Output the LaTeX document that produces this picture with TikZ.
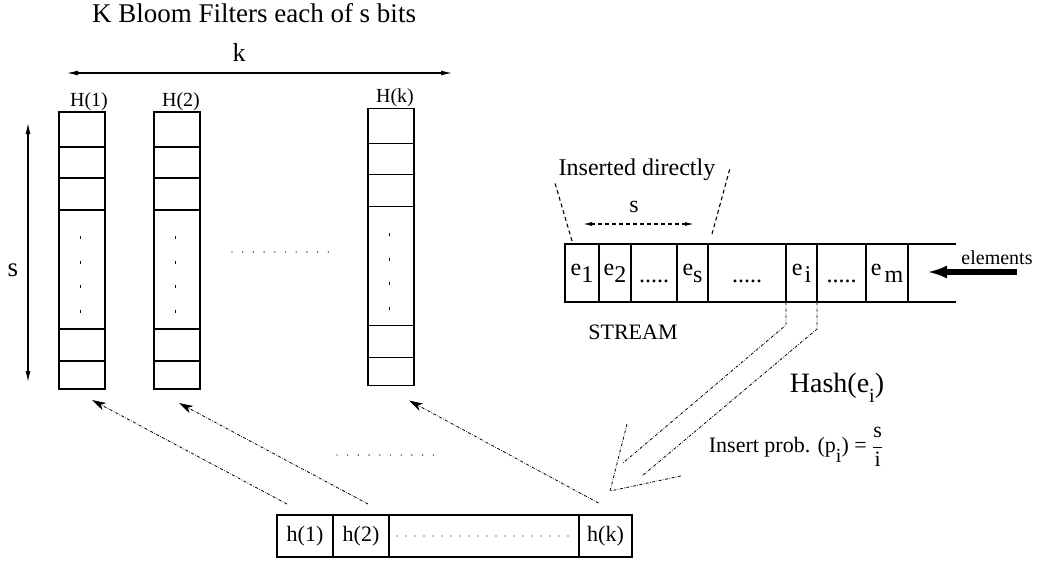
\documentclass[tikz,border=0pt]{standalone}
\usepackage{fontspec}
\setmainfont{Liberation Serif}
\usetikzlibrary{calc,positioning,arrows.meta}
\newcommand{\fs}[1]{\fontsize{#1}{#1}\selectfont}
\newcommand{\elem}[2][0pt]{e\hspace{#1}\raisebox{-7pt}{#2}}
\newcommand{\celldots}{\vphantom{e}\raisebox{-8pt}{.....}}

\begin{document}
\begin{tikzpicture} [x=1pt, y=-1pt, line width=1.1pt,
	filter/.style={draw, minimum width=46pt, minimum height=277pt, inner sep=0pt, outer sep=0pt},
	cell/.style={draw, minimum height=58pt, inner sep=0pt, outer sep=0pt, font=\fs{24}},
	hcell/.style={draw, minimum height=42pt, inner sep=0pt, outer sep=0pt, font=\fs{22}},
	hashline/.style={line width=0.8pt, dash pattern=on 3pt off 1.5pt on 0.6pt off 1.5pt},
	toward/.style={arrows={-Stealth[length=14pt, width=8pt, inset=4pt]}},
	dblarrow/.style={arrows={Latex[length=11pt, width=5pt]-Latex[length=11pt, width=5pt]}}]
\useasboundingbox (0,0) rectangle (1042,563);

% filters:
\node [font=\fs{27}] (title) at (254,13) {K Bloom Filters each of s bits};
\node [font=\fs{26}] (k) at (239,52) {k};
\draw [dblarrow] (67,73) -- (452,73);
\node [font=\fs{27}] (s) at (13,270) {s};
\draw [dblarrow] (28,123) -- (28,382);

\node [filter] (H1) at (82,250.5) {};
\node [filter] (H2) at (177,250.5) {};
\node [filter] (Hk) at (391,247) {};
\node [font=\fs{20}, anchor=base] at ($(H1.north)+(7,-6)$) {H(1)};
\node [font=\fs{20}, anchor=base] at ($(H2.north)+(4,-6)$) {H(2)};
\node [font=\fs{20}, anchor=base] at ($(Hk.north)+(4,-6)$) {H(k)};

\foreach \c in {H1,H2,Hk} {
	\foreach \d in {35,66,98,217,249}
		\draw ($(\c.north west)+(0,\d)$) -- ($(\c.north east)+(0,\d)$);
	\foreach \d in {124,149,173,198}
		\draw [line width=0.9pt] ($(\c.north)+(-2,\d)$) -- ++(0,3);
}
\foreach \i in {0,...,9}
	\fill (232+\i*10.7,252) circle (0.7);

% stream:
\node [cell, minimum width=34pt] (e1) at (582,273) {\elem{1}};
\node [cell, minimum width=32pt, right=0pt of e1] (e2) {\elem{2}};
\node [cell, minimum width=46pt, right=0pt of e2] (d1) {\celldots};
\node [cell, minimum width=31pt, right=0pt of d1] (es) {\elem{s}};
\node [cell, minimum width=78pt, right=0pt of es] (d2) {\celldots};
\node [cell, minimum width=31pt, right=0pt of d2] (ei) {\elem[2pt]{i}};
\node [cell, minimum width=49pt, right=0pt of ei] (d3) {\celldots};
\node [cell, minimum width=42pt, right=0pt of d3] (em) {\elem[3pt]{m}};
\draw (em.north east) -- ++(48,0);
\draw (em.south east) -- ++(48,0);
\node [font=\fs{22}] (stream) at (633,332) {STREAM};

\draw [line width=5.5pt, -{Latex[length=20pt, width=13pt]}] (1017,272) -- (927,272);
\node [font=\fs{20}] (elements) at (997,258) {elements};

% inserted directly:
\node [font=\fs{24}] (direct) at (637,170) {Inserted directly};
\draw [dash pattern=on 4pt off 3pt] ($(e1.north west)+(7,-3)$) -- ++(-17,-58);
\draw [dash pattern=on 4pt off 3pt] ($(es.north east)+(4,-10)$) -- ++(18,-66);
\draw [dash pattern=on 4pt off 3pt, arrows={Latex[length=9pt, width=4pt]-Latex[length=9pt, width=4pt]}]
	($(e1.north west)+(18,-20)$) -- ($(es.north east)+(-14,-20)$);
\node [font=\fs{24}] (sd) at (634,207) {s};

% hash:
\coordinate (vtip) at (610,491);
\draw [hashline] (ei.south west) -- ++(0,23) -- ++(-163,138);
\draw [hashline] (ei.south east) -- ++(0,27) -- ++(-175,147);
\draw [hashline] (vtip) ++(17,-67) -- (vtip) -- ++(71,-15);
\node [font=\fs{28}] (hash) at (837,388) {Hash(e\raisebox{-10pt}{\fs{20}i})};
\node [font=\fs{22}, anchor=base west] (prob) at (705,452)
	{Insert prob. (p\raisebox{-10pt}{\fs{20}i}) = \(\displaystyle\frac{\hbox{s}}{\hbox{i}}\)};

% hash values:
\node [hcell, minimum width=56pt] (h1) at (305,536) {h(1)};
\node [hcell, minimum width=56pt, right=0pt of h1] (h2) {h(2)};
\node [hcell, minimum width=190pt, right=0pt of h2] (hd) {};
\node [hcell, minimum width=53pt, right=0pt of hd] (hk) {h(k)};
\foreach \i in {0,...,19}
	\fill ($(hd.west)+(8+\i*9,0)$) circle (0.7);
\foreach \i in {0,...,9}
	\fill (337+\i*10.7,455) circle (0.7);

\draw [hashline, toward] ($(h1.north)+(-18,-11)$) -- ($(H1.south)+(10,11)$);
\draw [hashline, toward] ($(h2.north)+(7,-11)$) -- ($(H2.south)+(2,14)$);
\draw [hashline, toward] ($(hk.north)+(-7,-12)$) -- ($(Hk.south)+(18,15)$);
\end{tikzpicture}
\end{document}
